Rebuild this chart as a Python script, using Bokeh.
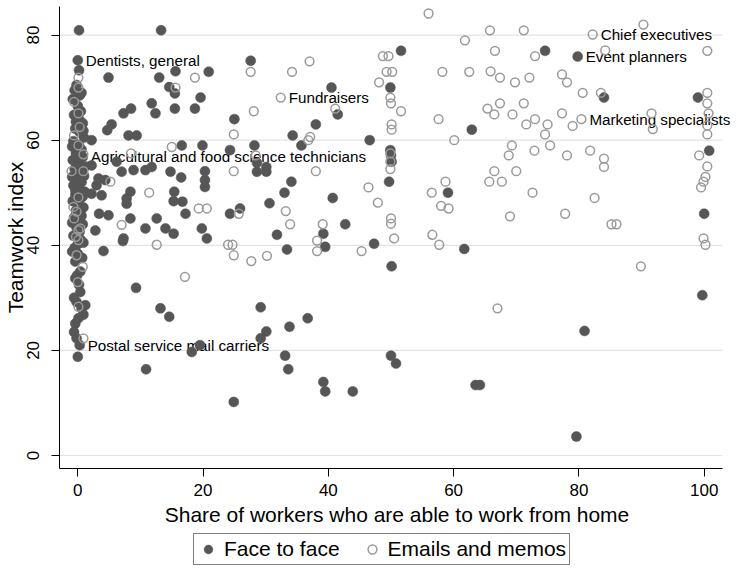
from bokeh.plotting import figure
from bokeh.layouts import column
from bokeh.models import Range1d, FixedTicker, Legend, LegendItem
from bokeh.embed import file_html
from bokeh.resources import INLINE
from bokeh.core.properties import value

FONT = "Liberation Sans"

# ---- data: Face to face (filled) ----
face_x = [0.2, 0.0, 0.2, -0.5, 0.3, -0.8, 0.0, 0.5, -0.6, 0.2, 0.8, -0.4, 0.3, 1.0, -0.7, 0.2, 0.6, -0.3,
          0.8, -0.8, 0.3, 1.2, -0.5, 0.4, 1.0, -0.2, 0.6, -0.7, 0.2, 1.1, -0.4, 0.5, -0.8, 0.1, 0.9, -0.3,
          0.4, -0.6, 0.2, 0.8, -0.2, 0.3, -0.7, 0.5, 0.0, -0.9, 0.0, -0.4, 0.4, -0.4, 0.4, -0.2, 1.2, 0.6,
          0.1, -0.4, -0.2, 0.3, 0.0,
          -0.2, 0.6, -0.3, 0.9, -0.9, 0.5, -0.1, 0.7, -0.9, 0.3, -0.4, 0.8, -0.1, 0.6, -0.9, 0.0, 0.9, -0.5,
          0.7, -0.1, 0.2, -0.6, 0.9, -0.6,
          4.9, 13.3, 13.0, 15.6, 20.9, 14.6, 15.5, 19.6, 11.8, 8.5, 7.3, 12.4, 15.5, 18.7, 25.0, 5.4, 4.7,
          8.1, 9.4, 2.2, 16.6, 19.9, 24.3, 6.2, 7.0, 8.9, 10.8, 11.8, 14.8, 16.5, 20.3, 20.3, 20.3, 2.2,
          3.8, 8.4, 7.8, 7.8, 15.4, 15.3, 16.7, 17.2, 3.4, 4.9, 8.4, 12.6, 10.8, 14.0, 15.3, 19.8, 20.6,
          2.8, 7.3, 2.2, 3.3, 4.4, 3.0,
          4.1, 7.2, 9.3, 13.2, 14.6, 19.5, 18.2, 10.9, 24.9,
          51.6, 27.6, 40.5, 49.9, 41.5, 38.0, 34.3, 35.7, 46.6, 28.2, 49.9, 50.0, 50.1, 28.6, 28.6, 30.1,
          30.1, 34.1, 49.7, 33.0, 30.6, 40.7, 25.9, 24.3, 42.7, 39.2, 31.8, 33.4, 39.5, 47.3,
          50.1, 29.2, 36.7, 33.8, 30.1, 29.2, 33.1, 33.6, 50.0, 50.8, 39.2, 39.5, 43.9,
          74.6, 79.8, 84.0, 99.0, 62.9, 100.8, 59.1, 100.0, 61.7,
          99.7, 80.9, 63.5, 64.2, 79.6]
face_y = [80.9, 75.2, 73.3, 69.5, 68.5, 67.8, 66.5, 65.5, 64.8, 64.0, 63.2, 62.2, 61.5, 60.5, 59.8, 59.0, 58.2, 57.5,
          56.8, 56.2, 55.5, 55.0, 54.5, 53.8, 53.2, 52.6, 52.0, 51.4, 50.8, 50.2, 49.6, 49.0, 48.4, 47.8, 47.2, 46.6,
          46.0, 45.3, 44.6, 44.0, 43.4, 42.6, 41.8, 41.0, 40.2, 38.8, 38.4, 36.9, 35.0, 33.7, 31.1, 29.2, 28.6, 28.0,
          26.1, 25.1, 22.3, 21.0, 18.8,
          70.5, 69.0, 63.5, 61.8, 58.8, 57.0, 55.0, 54.3, 53.0, 52.3, 50.5, 49.3, 48.0, 45.6, 44.3, 42.0, 40.5, 39.5,
          37.6, 34.3, 32.5, 30.0, 26.8, 23.5,
          71.9, 80.9, 71.9, 73.1, 73.0, 70.1, 68.9, 68.1, 67.0, 66.0, 65.1, 65.1, 66.0, 66.0, 64.0, 63.0, 61.9,
          60.9, 60.9, 60.0, 59.0, 59.0, 58.1, 55.9, 54.0, 54.3, 54.3, 54.9, 54.0, 52.9, 54.1, 52.4, 51.1, 49.8,
          49.5, 50.2, 48.9, 47.9, 50.2, 48.4, 48.3, 46.0, 46.0, 45.7, 45.1, 45.1, 43.2, 43.2, 42.2, 43.2, 41.3,
          42.8, 41.3, 55.2, 52.7, 52.4, 51.4,
          38.9, 40.8, 31.9, 28.0, 26.4, 21.0, 19.7, 16.4, 10.2,
          77.0, 75.1, 70.0, 70.0, 64.9, 63.0, 60.9, 59.0, 60.0, 59.0, 58.1, 57.1, 55.9, 55.7, 54.0, 54.9,
          54.0, 52.1, 52.1, 50.0, 48.0, 49.0, 47.0, 46.0, 44.0, 42.2, 42.0, 39.2, 39.7, 40.3,
          36.0, 28.2, 26.1, 24.5, 23.6, 22.3, 19.0, 16.4, 19.0, 17.5, 14.0, 12.2, 12.2,
          77.0, 75.9, 68.1, 68.1, 62.0, 58.0, 50.0, 46.0, 39.3,
          30.5, 23.7, 13.4, 13.4, 3.6]

# ---- data: Emails and memos (hollow) ----
email_x = [0.1, 0.1, -0.6, 0.1, 0.3, -0.6, 0.1, 0.9, -1.0, 0.9, 0.1, -0.7, -0.2, -0.6, 0.4, -0.3, 0.1, 0.1,
           -0.2, 0.8, 0.0, 0.1, 0.9,
           18.7, 15.6, 24.9, 15.0, 8.5, 24.9, 5.2, 11.4, 19.3, 20.6, 7.0, 12.6, 24.0, 24.7, 24.9, 17.1,
           56.0, 37.0, 27.6, 34.2, 48.7, 49.6, 49.3, 50.2, 48.1, 32.4, 49.9, 50.0, 51.6, 41.1, 28.1, 50.1,
           50.1, 37.1, 36.8, 49.9, 49.9, 49.9, 38.0, 28.4, 46.4, 47.9, 33.2, 25.7, 33.9, 39.1, 50.0, 50.0,
           50.5, 38.2, 27.7, 30.2, 38.2, 45.3,
           65.8, 71.2, 61.8, 90.3, 82.2, 66.6, 73.0, 84.2, 100.5, 58.2, 62.5, 65.9, 67.4, 69.8, 72.1, 77.3,
           78.1, 80.6, 83.5, 100.5, 100.5, 100.7, 100.5, 100.5, 65.4, 66.5, 67.4, 69.4, 71.2, 73.0, 71.6,
           75.0, 74.6, 75.4, 77.3, 79.0, 80.4, 91.6, 91.8, 57.6, 60.1, 69.3, 68.8, 72.9, 78.1, 81.8, 84.0,
           84.0, 99.2, 100.5, 100.2, 99.9, 99.5, 66.5, 70.0, 65.7, 67.7, 58.7, 56.5, 72.6, 82.5, 58.0, 59.2,
           69.0, 77.8, 85.2, 86.0, 56.6, 57.7, 99.9, 100.2, 89.9, 67.0]
email_y = [71.9, 70.0, 67.3, 65.1, 62.5, 60.9, 59.0, 57.3, 54.1, 54.1, 49.1, 47.3, 46.4, 45.1, 43.2, 41.6, 42.9, 41.0,
           38.1, 35.9, 33.0, 28.3, 22.3,
           71.9, 70.0, 61.1, 58.7, 57.5, 54.1, 52.1, 50.0, 47.0, 47.0, 43.9, 40.1, 40.1, 40.1, 38.1, 34.0,
           84.1, 75.0, 73.0, 73.0, 76.0, 76.0, 73.0, 73.0, 71.0, 68.1, 68.1, 67.0, 65.5, 66.0, 65.5, 63.0,
           62.0, 60.6, 60.0, 57.5, 55.9, 54.5, 54.1, 57.1, 51.0, 48.1, 46.5, 46.0, 44.0, 44.0, 45.1, 44.1,
           41.3, 40.9, 37.0, 38.0, 38.9, 38.9,
           80.9, 80.9, 79.0, 82.0, 80.1, 77.0, 76.0, 77.1, 77.0, 73.0, 73.0, 73.1, 71.9, 71.0, 71.9, 72.5,
           71.0, 69.0, 69.0, 69.0, 67.0, 65.1, 62.8, 61.1, 66.0, 64.9, 67.0, 64.9, 67.0, 64.0, 63.0,
           63.0, 61.1, 59.0, 65.1, 62.7, 64.0, 65.1, 62.1, 64.0, 60.0, 59.0, 57.1, 58.0, 57.1, 58.0, 56.5,
           54.9, 57.1, 55.0, 53.0, 52.1, 51.0, 54.1, 54.1, 52.1, 52.1, 52.1, 50.0, 50.0, 49.0, 47.5, 47.0,
           45.5, 46.0, 44.0, 44.0, 42.0, 40.1, 41.3, 40.1, 36.0, 28.0]

# ---- labelled occupations ----
label_text = ["Dentists, general", "Agricultural and food science technicians", "Fundraisers",
              "Postal service mail carriers", "Chief executives", "Event planners", "Marketing specialists"]
label_x = [0.0, 0.8, 32.4, 0.3, 82.2, 79.8, 80.4]
label_y = [75.2, 56.8, 68.1, 21.0, 80.1, 75.9, 64.0]

series_names = ["Face to face", "Emails and memos"]
x_ticks = [0, 20, 40, 60, 80, 100]
y_ticks = [0, 20, 40, 60, 80]

X_START, X_END = -2.92, 104.84
X_AXIS_END = 102.9
Y_START, Y_END = -2.47, 85.43

FACE_STYLE = dict(marker="circle", fill_color="#565656", line_color="#565656", line_width=0.5)
MAIL_STYLE = dict(marker="circle", fill_color=None, fill_alpha=0, line_color="#9a9a9a", line_width=1.5)

p = figure(width=734, height=533, output_backend="svg", toolbar_location=None,
           x_range=Range1d(X_START, X_END), y_range=Range1d(Y_START, Y_END),
           min_border_left=59, min_border_right=0, min_border_top=6, min_border_bottom=65,
           background_fill_color="white", border_fill_color="white")
p.outline_line_color = None
p.xgrid.visible = False
p.ygrid.visible = False

# horizontal grid lines (at the y ticks, spanning the axis extent)
p.segment(x0=[X_START] * len(y_ticks), x1=[X_AXIS_END] * len(y_ticks), y0=y_ticks, y1=y_ticks,
          line_color="#e3e3e3", line_width=1.2)

# labels (drawn below the markers)
p.text(x=label_x, y=label_y, text=label_text, x_offset=8, text_baseline="middle", text_align="left",
       text_font=value(FONT), text_font_size="15.2px", text_color="black")

p.scatter(face_x, face_y, size=10, **FACE_STYLE)
p.scatter(email_x, email_y, size=8.8, **MAIL_STYLE)

for ax in (p.xaxis[0], p.yaxis[0]):
    ax.axis_line_color = "black"
    ax.axis_line_width = 1
    ax.major_tick_line_color = "black"
    ax.major_tick_in = 0
    ax.major_tick_out = 8
    ax.minor_tick_line_color = None
    ax.major_label_text_font = FONT
    ax.major_label_text_font_size = "17px"
    ax.major_label_text_color = "black"
    ax.axis_label_text_font = FONT
    ax.axis_label_text_font_size = "21px"
    ax.axis_label_text_font_style = "normal"
    ax.axis_label_text_color = "black"

p.xaxis.ticker = FixedTicker(ticks=x_ticks)
p.yaxis.ticker = FixedTicker(ticks=y_ticks)
p.xaxis.bounds = (X_START, X_AXIS_END)
p.xaxis.axis_label = "Share of workers who are able to work from home"
p.yaxis.axis_label = "Teamwork index"
p.yaxis.major_label_orientation = "vertical"
p.xaxis.major_label_standoff = 7
p.xaxis.axis_label_standoff = 4
p.yaxis.major_label_standoff = 12
p.yaxis.axis_label_standoff = -2

# ---- legend strip below the plot (keys use the same data, outside this strip's ranges) ----
lg = figure(width=734, height=32, output_backend="svg", toolbar_location=None,
            x_range=Range1d(1000, 1001), y_range=Range1d(1000, 1001),
            x_axis_location=None, y_axis_location=None,
            min_border_left=0, min_border_right=0, min_border_top=0, min_border_bottom=0,
            background_fill_color="white", border_fill_color="white")
lg.outline_line_color = None
lg.grid.visible = False
k_face = lg.scatter(face_x, face_y, size=10, **FACE_STYLE)
k_mail = lg.scatter(email_x, email_y, size=8.8, **MAIL_STYLE)
legend = Legend(items=[LegendItem(label=series_names[0], renderers=[k_face]),
                       LegendItem(label=series_names[1], renderers=[k_mail])],
                orientation="horizontal", location=(134, 0),
                border_line_color="black", border_line_width=1,
                background_fill_color="white", background_fill_alpha=1,
                label_text_font=FONT, label_text_font_size="21px", label_text_color="black",
                glyph_width=22, glyph_height=22, label_standoff=5, spacing=21,
                padding=3, margin=0)
lg.add_layout(legend, "center")

layout = column(p, lg, spacing=0)
open("out.html", "w").write(file_html(layout, INLINE))
